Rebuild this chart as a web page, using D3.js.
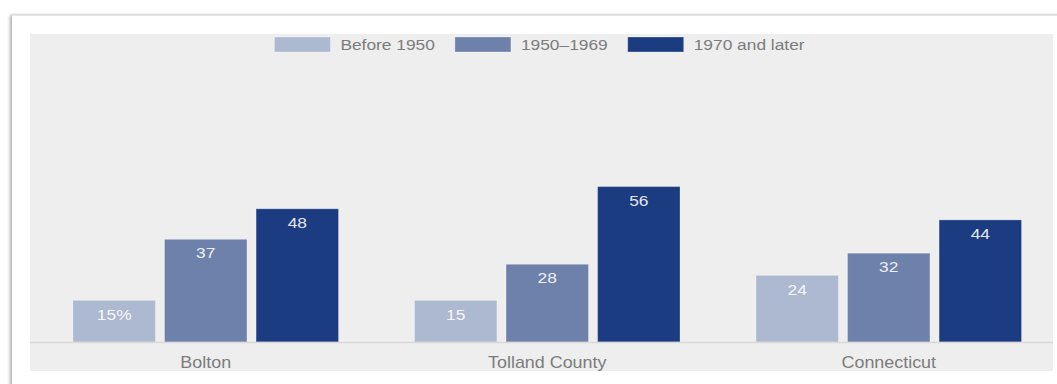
<!DOCTYPE html>
<html>
<head>
<meta charset="utf-8">
<script src="https://cdn.jsdelivr.net/npm/d3@7"></script>
<style>
  html, body { margin: 0; padding: 0; background: #fff; overflow: hidden; }
  body { width: 1057px; height: 384px; position: relative; }
  .card {
    position: absolute; left: 12px; top: 15px; width: 1100px; height: 420px;
    background: #fff; border-top: 1px solid #e4e4e4;
    box-shadow: -2px 0 3px rgba(0,0,0,0.32);
  }
  svg { position: absolute; left: 0; top: 0; }
  text { font-family: "Liberation Sans", Arial, sans-serif; }
</style>
</head>
<body>
<div class="card"></div>
<svg id="chart" width="1057" height="384"></svg>
<script>
// Share of housing units by year built
const categories = ["Bolton", "Tolland County", "Connecticut"];
const seriesNames = ["Before 1950", "1950\u20131969", "1970 and later"];
const before1950 = [15, 15, 24];
const from1950to1969 = [37, 28, 32];
const after1970 = [48, 56, 44];
const seriesColors = ["#adb9d0", "#6e81ab", "#1c3c82"];

const seriesValues = [before1950, from1950to1969, after1970];

const svg = d3.select("#chart");
const panel = { left: 30, top: 34, right: 1053, bottom: 371 };
const textColor = "#7c7c7c";
const stretch = 1.12;

// Panel background
svg.append("rect")
  .attr("x", panel.left).attr("y", panel.top)
  .attr("width", panel.right - panel.left)
  .attr("height", panel.bottom - panel.top)
  .attr("fill", "#eeeeee");

const x0 = d3.scaleBand().domain(categories).range([35, 1059.5]).padding(0);
const x1 = d3.scaleBand().domain(d3.range(seriesNames.length))
  .range([38, x0.bandwidth() - 38]).paddingInner(0.1).paddingOuter(0);
const y = d3.scaleLinear().domain([0, 100]).range([342, 64.5]);

// Helper: horizontally widened text
function label(sel, x, yy, str, size, fill, anchor) {
  return sel.append("text")
    .attr("transform", `translate(${x},${yy}) scale(${stretch},1)`)
    .attr("text-anchor", anchor || "middle")
    .attr("dominant-baseline", "central")
    .attr("font-size", size)
    .attr("fill", fill)
    .text(str);
}

// Bars
const groups = svg.append("g").selectAll("g")
  .data(categories)
  .join("g")
  .attr("transform", d => `translate(${x0(d)},0)`);

groups.each(function(cat, ci) {
  const g = d3.select(this);
  seriesValues.forEach((vals, si) => {
    const v = vals[ci];
    g.append("rect")
      .attr("x", x1(si))
      .attr("y", y(v))
      .attr("width", x1.bandwidth())
      .attr("height", y(0) - y(v))
      .attr("fill", seriesColors[si])
      .attr("stroke", "rgba(255,255,255,0.25)")
      .attr("stroke-width", 1);
    const txt = (ci === 0 && si === 0) ? v + "%" : String(v);
    label(g, x1(si) + x1.bandwidth() / 2, y(v) + 13.5, txt, 15.5, "rgba(255,255,255,0.9)");
  });
});

// Baseline axis
const axis = svg.append("g").attr("transform", `translate(0,${y(0)})`)
  .call(d3.axisBottom(x0).tickSize(0).tickFormat(""));
axis.select(".domain").remove();
svg.append("line")
  .attr("x1", panel.left).attr("x2", panel.right)
  .attr("y1", y(0) + 0.5).attr("y2", y(0) + 0.5)
  .attr("stroke", "#d9d9d9").attr("stroke-width", 1.5);

categories.forEach(c => {
  label(svg, x0(c) + x0.bandwidth() / 2, 362.5, c, 16, textColor);
});

// Legend, centred over the panel
const legend = svg.append("g");
const swW = 56, swH = 15, swGap = 10, itemGap = 20;
let cursor = 0;
const items = seriesNames.map((name, i) => {
  const g = legend.append("g");
  g.append("rect").attr("x", 0).attr("y", -swH / 2).attr("width", swW).attr("height", swH)
    .attr("fill", seriesColors[i]).attr("stroke", "rgba(255,255,255,0.3)");
  const t = label(g, swW + swGap, 0, name, 15.5, textColor, "start");
  const w = t.node().getComputedTextLength() * stretch;
  return { g, w: swW + swGap + w };
});
const total = d3.sum(items, d => d.w) + itemGap * (items.length - 1);
cursor = (panel.left + panel.right) / 2 - total / 2 - 2;
items.forEach(it => {
  it.g.attr("transform", `translate(${cursor},44.5)`);
  cursor += it.w + itemGap;
});
</script>
</body>
</html>
